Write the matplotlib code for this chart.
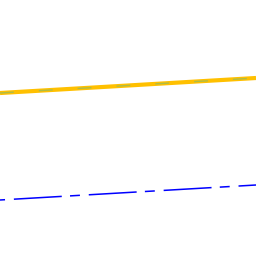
import numpy as np
from matplotlib import pyplot as plt

# series values
x = [0, 10]
upper = [163, 178]
lower = [56, 71]

fig = plt.figure(figsize=(2.56, 2.56), dpi=100)
ax = fig.add_axes([0, 0, 1, 1])

# thick yellow line with thin green dashes on top
ax.plot(x, upper, color='#FFC000', linewidth=3.0, solid_capstyle='butt')
ax.plot(x, upper, color='#9BBB59', linewidth=1.0, dashes=(10, 18), alpha=0.8)
# blue dash-dot line
ax.plot(x, lower, color='#0000FF', linewidth=1.1,
        linestyle=(40, (31.4, 5.4, 6.5, 5.8)))

ax.set_xlim(0, 10)
ax.set_ylim(0, 256)
ax.axis('off')

fig.savefig('out.png', dpi=100)
